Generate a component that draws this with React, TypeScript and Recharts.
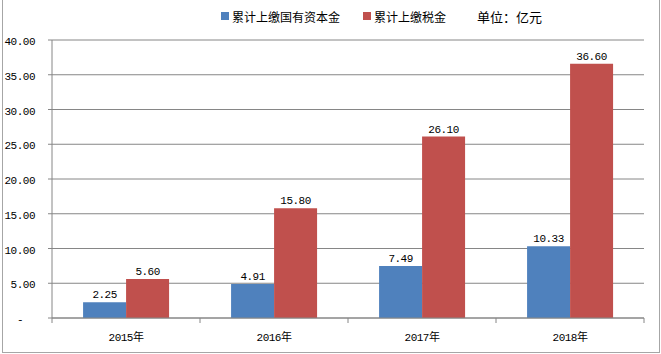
import React from 'react';
import { BarChart, Bar, XAxis, YAxis, CartesianGrid, Legend, LabelList } from 'recharts';

const years = ['2015年', '2016年', '2017年', '2018年'];
const capitalPaid = [2.25, 4.91, 7.49, 10.33];
const taxPaid = [5.6, 15.8, 26.1, 36.6];
const yTicks = [0, 5, 10, 15, 20, 25, 30, 35, 40];
const seriesNames = ['累计上缴国有资本金', '累计上缴税金'];
const unitText = '单位：亿元';

const data = years.map((year, i) => ({ year, capital: capitalPaid[i], tax: taxPaid[i] }));

const BLUE = '#4F81BD';
const RED = '#C0504D';
const GRID = '#868686';
const MONO = '"Liberation Mono", "Noto Sans CJK SC", monospace';
const CJK = '"Noto Sans CJK SC", sans-serif';

// category ticks sit on the band edges, labels in the middle
const YearTick = (props: any) => {
  const { x, y, payload, index, visibleTicksCount, width } = props;
  const half = payload.offset || width / visibleTicksCount / 2;
  return (
    <g>
      <line x1={x - half} y1={y} x2={x - half} y2={y + 5} stroke={GRID} />
      {index === visibleTicksCount - 1 && (
        <line x1={x + half} y1={y} x2={x + half} y2={y + 5} stroke={GRID} />
      )}
      <text x={x} y={y + 23} textAnchor="middle" fontSize={11} letterSpacing={-0.5} fontFamily={MONO} fill="#000">
        {payload.value}
      </text>
    </g>
  );
};

const ValueTick = (props: any) => {
  const { x, y, payload } = props;
  const isZero = payload.value === 0;
  return (
    <text x={isZero ? x - 12 : x} y={y + 5} textAnchor="end" fontSize={11} letterSpacing={-0.5} fontFamily={MONO} fill="#000">
      {isZero ? '-' : payload.value.toFixed(2)}
    </text>
  );
};

const LegendBox = () => (
  <div style={{ display: 'flex', alignItems: 'center', paddingLeft: 221, fontFamily: CJK, fontSize: 12, color: '#000', height: 20 }}>
    <span style={{ width: 8, height: 8, background: BLUE, marginRight: 3 }} />
    <span>{seriesNames[0]}</span>
    <span style={{ width: 8, height: 8, background: RED, marginLeft: 23, marginRight: 3 }} />
    <span>{seriesNames[1]}</span>
    <span style={{ marginLeft: 31, fontSize: 13 }}>{unitText}</span>
  </div>
);

const App: React.FC = () => {
  return (
    <div style={{ position: 'relative', width: 661, height: 354, background: '#fff' }}>
      <style>{`body{margin:0}`}</style>
      <div style={{ position: 'absolute', left: 2, top: 0, width: 656, height: 352, borderLeft: '1px solid #a6a6a6', borderRight: '1px solid #a6a6a6', borderBottom: '1px solid #a6a6a6' }} />
      <BarChart
        width={661}
        height={354}
        data={data}
        margin={{ top: 40, right: 17, left: 0, bottom: 6 }}
        barCategoryGap="21%"
        barGap={0}
      >
        <CartesianGrid vertical={false} stroke={GRID} />
        <XAxis dataKey="year" height={30} stroke={GRID} tickLine={false} tickSize={0} tickMargin={0} tick={<YearTick />} interval={0} />
        <YAxis
          width={52}
          domain={[0, 40]}
          ticks={yTicks}
          stroke={GRID}
          tickSize={4}
          tickMargin={13}
          tick={<ValueTick />}
          interval={0}
        />
        <Legend verticalAlign="middle" align="center" wrapperStyle={{ top: 6, left: 0, width: 661 }} content={<LegendBox />} />
        <Bar dataKey="capital" name={seriesNames[0]} fill={BLUE} isAnimationActive={false}>
          <LabelList dataKey="capital" position="top" offset={4} fontSize={11} letterSpacing={-0.5} fontFamily={MONO} fill="#000" formatter={(v: any) => Number(v).toFixed(2)} />
        </Bar>
        <Bar dataKey="tax" name={seriesNames[1]} fill={RED} isAnimationActive={false}>
          <LabelList dataKey="tax" position="top" offset={4} fontSize={11} letterSpacing={-0.5} fontFamily={MONO} fill="#000" formatter={(v: any) => Number(v).toFixed(2)} />
        </Bar>
      </BarChart>
    </div>
  );
};

export default App;
